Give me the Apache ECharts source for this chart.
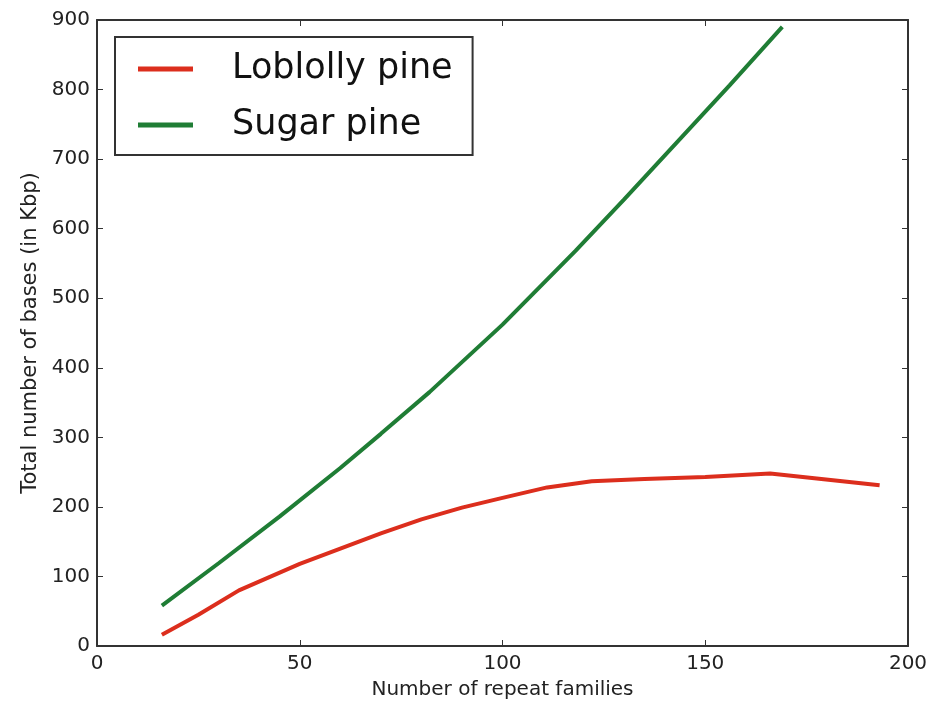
<!DOCTYPE html>
<html>
<head>
<meta charset="utf-8">
<script src="https://cdn.jsdelivr.net/npm/echarts@6/dist/echarts.min.js"></script>
<style>
  html, body { margin: 0; padding: 0; background: #fff; }
  #chart { width: 938px; height: 708px; }
</style>
</head>
<body>
<div id="chart"></div>
<script>
// Repeat-family counts (x) and cumulative bases in Kbp (y) for each pine genome
const loblollyFamilies = [16, 25, 35, 50, 60, 70, 80, 90, 100, 111, 122, 135, 150, 166, 193];
const loblollyKbp      = [16, 45, 80, 118, 140, 162, 182, 199, 213, 228, 237, 240, 243, 248, 231];

const sugarFamilies = [16, 30, 45, 60, 70, 82, 100, 118, 130, 143, 156, 169];
const sugarKbp      = [58, 119, 186, 256, 305, 365, 462, 568, 642, 724, 806, 890];

const xTicks = [0, 50, 100, 150, 200];
const yTicks = [0, 100, 200, 300, 400, 500, 600, 700, 800, 900];

const seriesNames = ['Loblolly pine', 'Sugar pine'];
const seriesColors = ['#dc2e1d', '#1f7d35'];

const pairs = (xs, ys) => xs.map((x, i) => [x, ys[i]]);

const font = 'DejaVu Sans';
const axisColor = '#333';
const tickStyle = { show: true, inside: true, length: 6, lineStyle: { color: axisColor, width: 1 } };
const lineStyleAxis = { show: true, onZero: false, lineStyle: { color: axisColor, width: 2 } };

const baseX = {
  type: 'value',
  min: xTicks[0],
  max: xTicks[xTicks.length - 1],
  interval: xTicks[1] - xTicks[0],
  splitLine: { show: false },
  axisLine: lineStyleAxis,
  axisTick: tickStyle
};
const baseY = {
  type: 'value',
  min: yTicks[0],
  max: yTicks[yTicks.length - 1],
  interval: yTicks[1] - yTicks[0],
  splitLine: { show: false },
  axisLine: lineStyleAxis,
  axisTick: tickStyle
};

const chart = echarts.init(document.getElementById('chart'), null, { renderer: 'canvas' });
chart.setOption({
  backgroundColor: '#fff',
  animation: false,
  grid: { left: 97, right: 30, top: 20, bottom: 62 },
  legend: {
    orient: 'vertical',
    left: 115,
    top: 37,
    padding: [12, 20, 10, 23],
    itemGap: 16,
    itemWidth: 55,
    itemHeight: 5,
    icon: 'rect',
    borderColor: '#333',
    borderWidth: 2,
    borderRadius: 0,
    backgroundColor: '#fff',
    data: seriesNames,
    textStyle: { fontFamily: font, fontSize: 35, lineHeight: 40, color: '#111', padding: [0, 0, 0, 34] }
  },
  xAxis: [
    Object.assign({}, baseX, {
      position: 'bottom',
      name: 'Number of repeat families',
      nameLocation: 'middle',
      nameGap: 34,
      nameTextStyle: { fontFamily: font, fontSize: 20, color: '#222' },
      axisLabel: { fontFamily: font, fontSize: 20, color: '#222', margin: 8 }
    }),
    Object.assign({}, baseX, { position: 'top', axisLabel: { show: false } })
  ],
  yAxis: [
    Object.assign({}, baseY, {
      position: 'left',
      name: 'Total number of bases (in Kbp)',
      nameLocation: 'middle',
      nameGap: 56,
      nameTextStyle: { fontFamily: font, fontSize: 21, color: '#222' },
      axisLabel: { fontFamily: font, fontSize: 20, color: '#222', margin: 7 }
    }),
    Object.assign({}, baseY, { position: 'right', axisLabel: { show: false } })
  ],
  series: [
    {
      name: seriesNames[0],
      type: 'line',
      data: pairs(loblollyFamilies, loblollyKbp),
      showSymbol: false,
      color: seriesColors[0],
      lineStyle: { width: 4, color: seriesColors[0] }
    },
    {
      name: seriesNames[1],
      type: 'line',
      data: pairs(sugarFamilies, sugarKbp),
      showSymbol: false,
      color: seriesColors[1],
      lineStyle: { width: 4, color: seriesColors[1] }
    }
  ]
});
</script>
</body>
</html>
